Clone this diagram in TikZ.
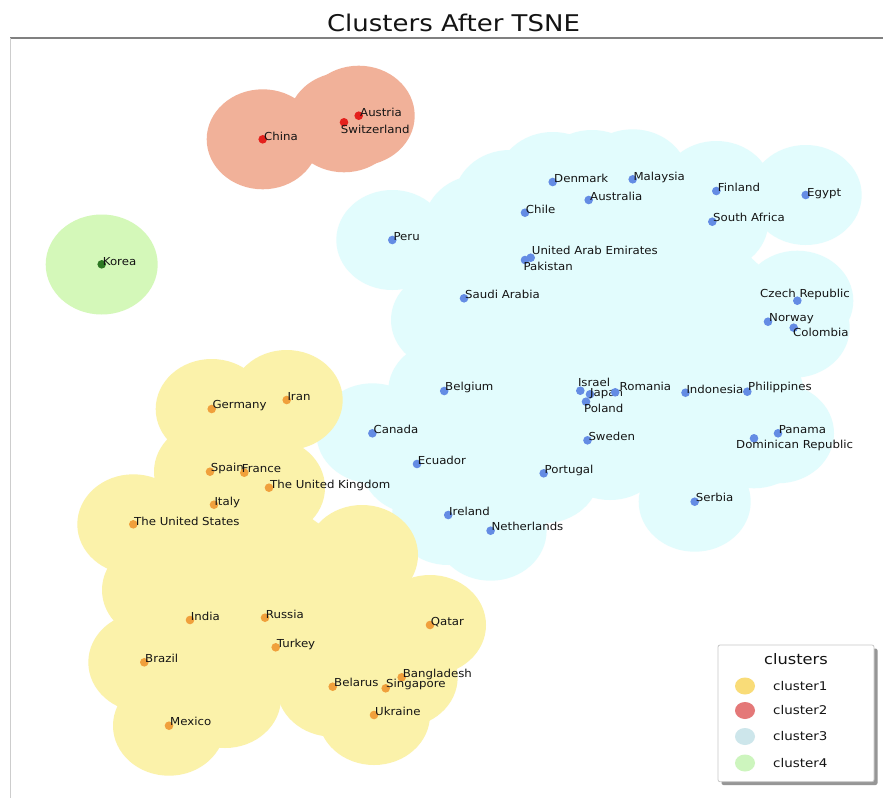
\documentclass[tikz,border=0pt]{standalone}
\usepackage{fontspec}
\setmainfont{DejaVu Sans}
\newfontfamily\lblfont[FakeStretch=1.07]{DejaVu Sans}
\newfontfamily\ttlfont[FakeStretch=1.13]{DejaVu Sans}
\newfontfamily\legfont[FakeStretch=1.12]{DejaVu Sans}
\definecolor{yblob}{RGB}{251,242,170}
\definecolor{rblob}{RGB}{241,177,153}
\definecolor{cblob}{RGB}{226,252,253}
\definecolor{gblob}{RGB}{212,248,185}
\definecolor{dorange}{RGB}{240,160,60}
\definecolor{dred}{RGB}{228,32,28}
\definecolor{dblue}{RGB}{100,140,228}
\definecolor{dgreen}{RGB}{45,120,35}
\definecolor{txt}{RGB}{20,20,20}
\definecolor{legy}{RGB}{249,220,120}
\definecolor{legr}{RGB}{228,120,120}
\definecolor{legc}{RGB}{205,230,235}
\definecolor{legg}{RGB}{205,245,190}
\newcommand\place[7]{\node[#6] (#1) at (#2,#3) {}; \node[lbl] (#1-t) at (#4,#5) {#7};}
\begin{document}
\begin{tikzpicture}[x=1pt,y=-1pt,
  dotbase/.style={circle, minimum size=8.6pt, inner sep=0pt},
  dy/.style={dotbase, fill=dorange},
  dr/.style={dotbase, fill=dred},
  db/.style={dotbase, fill=dblue},
  dg/.style={dotbase, fill=dgreen},
  lbl/.style={anchor=base west, inner sep=0pt, text=txt, font=\lblfont\fontsize{11}{12}\selectfont},
  legtxt/.style={anchor=west, inner sep=0pt, text=txt, font=\legfont\fontsize{12}{14}\selectfont},
  blobR/.style={x radius=56, y radius=50}]
\useasboundingbox (0,0) rectangle (883,798);
\fill[white] (0,0) rectangle (883,798);
% axes frame
\draw[color={rgb,255:red,128;green,128;blue,128}, line width=1.6pt] (10,38) -- (883,38);
\draw[color={rgb,255:red,205;green,205;blue,205}, line width=0.9pt] (10.5,38) -- (10.5,798);
\node[anchor=base, inner sep=0pt, text=txt, font=\ttlfont\fontsize{23}{26}\selectfont] (title) at (453.5,31.7) {Clusters After TSNE};
% cluster3 blob
\foreach \cx/\cy in {392.3/240,552.7/182,632.7/179.3,588.7/200,525/212.7,716.3/191,805.7/195,712.3/221.7,530.7/257.7,525/260,464/298.3,797.3/300.7,768/321.7,793.7/327.7,444.2/391,580.3/390.7,590/394.3,615.2/392.3,586/401.7,685.5/392.7,747.3/391.7,372.4/433.3,587.5/440.3,778/433.3,754/438.3,417/464,543.7/473.3,694.7/501.7,448.2/515,490.6/530.7,480/225,510/200,592/180,447/320,610/450}
  \fill[cblob] (\cx,\cy) ellipse [blobR];
\fill[cblob] (392.3,240) -- (480,225) -- (525,212.7) -- (552.7,182) -- (632.7,179.3) -- (716.3,191) -- (805.7,195) -- (712.3,221.7) -- (797.3,300.7) -- (793.7,327.7) -- (747.3,391.7) -- (778,433.3) -- (754,438.3) -- (694.7,501.7) -- (610,450) -- (543.7,473.3) -- (490.6,530.7) -- (448.2,515) -- (417,464) -- (372.4,433.3) -- (444.2,391) -- (447,320) -- cycle;
% cluster1 blob
\foreach \cx/\cy in {211.7/409,286.7/400,210/471.7,244.3/472.7,269/487.7,214/504.7,133.3/524.3,190/620,265/617.7,430/625,275.7/647.3,144.3/662.3,401.7/677.3,332.7/686.7,385.7/688.3,374/715,169/725.7,158/590,362/555,225/698}
  \fill[yblob] (\cx,\cy) ellipse [blobR];
\fill[yblob] (133.3,524.3) -- (211.7,409) -- (286.7,400) -- (269,487.7) -- (362,555) -- (430,625) -- (401.7,677.3) -- (374,715) -- (332.7,686.7) -- (275.7,647.3) -- (225,698) -- (169,725.7) -- (144.3,662.3) -- (158,590) -- cycle;
% cluster2 blob
\foreach \cx/\cy in {262.7/139.3,358.7/115.7,344/122.3}
  \fill[rblob] (\cx,\cy) ellipse [blobR];
% cluster4 blob
\fill[gblob] (101.7,264.5) ellipse [blobR];
% cluster1 points
\place{germany}{211.7}{409}{212.3}{408.3}{dy}{Germany}
\place{iran}{286.7}{400}{287.3}{400.5}{dy}{Iran}
\place{spain}{210}{471.7}{210.7}{471.7}{dy}{Spain}
\place{france}{244.3}{472.7}{241.7}{472.3}{dy}{France}
\place{uk}{269}{487.7}{270}{488.3}{dy}{The United Kingdom}
\place{italy}{214}{504.7}{214.3}{505.5}{dy}{Italy}
\place{us}{133.3}{524.3}{134}{525}{dy}{The United States}
\place{india}{190}{620}{190.7}{620}{dy}{India}
\place{russia}{265}{617.7}{265.7}{618.3}{dy}{Russia}
\place{qatar}{430}{625}{430.7}{625}{dy}{Qatar}
\place{turkey}{275.7}{647.3}{276.7}{647.3}{dy}{Turkey}
\place{brazil}{144.3}{662.3}{145}{662.3}{dy}{Brazil}
\place{bangladesh}{401.7}{677.3}{402.7}{677.7}{dy}{Bangladesh}
\place{belarus}{332.7}{686.7}{334}{686.7}{dy}{Belarus}
\place{singapore}{385.7}{688.3}{386}{687.9}{dy}{Singapore}
\place{ukraine}{374}{715}{375}{715}{dy}{Ukraine}
\place{mexico}{169}{725.7}{170}{725.7}{dy}{Mexico}
% cluster2 points
\place{china}{262.7}{139.3}{264}{140}{dr}{China}
\place{switzerland}{344}{122.3}{340.7}{133.3}{dr}{Switzerland}
\place{austria}{358.7}{115.7}{360}{116}{dr}{Austria}
% cluster4 point
\place{korea}{101.7}{264.3}{102.7}{265}{dg}{Korea}
% cluster3 points
\place{peru}{392.3}{240}{393.3}{240}{db}{Peru}
\place{denmark}{552.7}{182}{554}{182.7}{db}{Denmark}
\place{malaysia}{632.7}{179.3}{633.3}{180}{db}{Malaysia}
\place{australia}{588.7}{200}{590}{200.7}{db}{Australia}
\place{chile}{525}{212.7}{525.7}{213.3}{db}{Chile}
\place{finland}{716.3}{191}{717.7}{191}{db}{Finland}
\place{egypt}{805.7}{195}{807}{196}{db}{Egypt}
\place{southafrica}{712.3}{221.7}{713}{221.7}{db}{South Africa}
\place{pakistan}{525}{260}{523.3}{270}{db}{Pakistan}
\place{uae}{530.7}{257.7}{531.7}{254.3}{db}{United Arab Emirates}
\place{saudi}{464}{298.3}{465}{298.3}{db}{Saudi Arabia}
\place{czech}{797.3}{300.7}{760}{297.7}{db}{Czech Republic}
\place{norway}{768}{321.7}{769}{321.7}{db}{Norway}
\place{colombia}{793.7}{327.7}{793}{336.7}{db}{Colombia}
\place{belgium}{444.2}{391}{445}{390.7}{db}{Belgium}
\place{israel}{580.3}{390.7}{577.8}{386}{db}{Israel}
\place{poland}{586}{401.7}{583.9}{412.3}{db}{Poland}
\place{japan}{590}{394.3}{590}{396}{db}{Japan}
\place{romania}{615.2}{392.3}{619.5}{390}{db}{Romania}
\place{indonesia}{685.5}{392.7}{686.3}{393.3}{db}{Indonesia}
\place{philippines}{747.3}{391.7}{748}{390.7}{db}{Philippines}
\place{canada}{372.4}{433.3}{373.4}{433.3}{db}{Canada}
\place{sweden}{587.5}{440.3}{588.3}{440}{db}{Sweden}
\place{dominican}{754}{438.3}{736}{448}{db}{Dominican Republic}
\place{panama}{778}{433.3}{778.7}{433.3}{db}{Panama}
\place{ecuador}{417}{464}{417.7}{464}{db}{Ecuador}
\place{portugal}{543.7}{473.3}{544.5}{473}{db}{Portugal}
\place{serbia}{694.7}{501.7}{695.7}{501.7}{db}{Serbia}
\place{ireland}{448.2}{515}{449}{515}{db}{Ireland}
\place{netherlands}{490.6}{530.7}{491.4}{530.7}{db}{Netherlands}
% legend
\fill[color={rgb,255:red,150;green,150;blue,150}, rounded corners=2pt] (721.5,648.5) rectangle (877.5,785);
\filldraw[fill=white, draw={rgb,255:red,200;green,200;blue,200}, line width=0.8pt, rounded corners=2pt] (718,645) rectangle (874,781.7);
\node[anchor=base, inner sep=0pt, text=txt, font=\legfont\fontsize{14.5}{16}\selectfont] (legtitle) at (796,664) {clusters};
\fill[legy] (745,686) ellipse [x radius=10, y radius=8.5];
\fill[legr] (745,710.5) ellipse [x radius=10, y radius=8.5];
\fill[legc] (745,736.5) ellipse [x radius=10, y radius=8.5];
\fill[legg] (745,763) ellipse [x radius=10, y radius=8.5];
\node[legtxt] (leg1) at (773,686) {cluster1};
\node[legtxt] (leg2) at (773,710.5) {cluster2};
\node[legtxt] (leg3) at (773,736.5) {cluster3};
\node[legtxt] (leg4) at (773,763) {cluster4};
\end{tikzpicture}
\end{document}
